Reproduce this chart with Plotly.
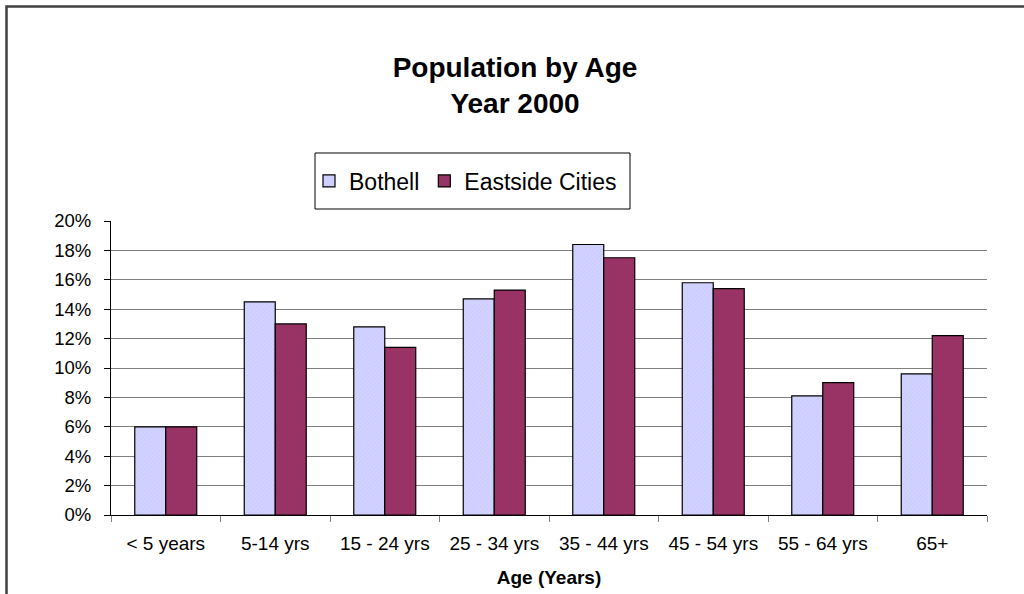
import plotly.graph_objects as go

categories = ["< 5 years", "5-14 yrs", "15 - 24 yrs", "25 - 34 yrs", "35 - 44 yrs",
              "45 - 54 yrs", "55 - 64 yrs", "65+"]
bothell = [6.0, 14.5, 12.8, 14.7, 18.4, 15.8, 8.1, 9.6]
eastside = [6.0, 13.0, 11.4, 15.3, 17.5, 15.4, 9.0, 12.2]
y_ticks = [0, 2, 4, 6, 8, 10, 12, 14, 16, 18, 20]
grid_ticks = y_ticks[1:-1]

W, H = 1024, 594
L, R, T, B = 111, 987, 221, 515

def px_x(p):
    return (p - L) / (R - L)

def px_y(p):
    return (B - p) / (B - T)

FONT = "Liberation Sans, Arial, sans-serif"

fig = go.Figure()
fig.add_trace(go.Bar(
    name="Bothell", x=categories, y=bothell,
    marker=dict(color="#CCCCFF", line=dict(color="#000000", width=1.2),
                pattern=dict(shape="/", bgcolor="#CCCCFF", fgcolor="#DDDDFF",
                             size=3, solidity=0.4)),
))
fig.add_trace(go.Bar(
    name="Eastside Cities", x=categories, y=eastside,
    marker=dict(color="#993366", line=dict(color="#000000", width=1.2)),
))
# invisible trace to host grid-only overlay axis
fig.add_trace(go.Scatter(x=[categories[0]], y=[0], yaxis="y2", mode="markers",
                         marker=dict(opacity=0), showlegend=False, hoverinfo="skip"))

fig.update_layout(
    width=W, height=H,
    margin=dict(l=L, r=W - R, t=T, b=H - B, autoexpand=False),
    paper_bgcolor="white", plot_bgcolor="white",
    font=dict(family=FONT, color="black"),
    barmode="group", bargap=0.434, bargroupgap=0,
    title=dict(text="<b>Population by Age<br>Year 2000</b>",
               font=dict(size=28, family=FONT),
               x=515 / W, xanchor="center", xref="container",
               y=1 - 77 / H, yanchor="top", yref="container"),
    showlegend=True,
    legend=dict(orientation="h", x=px_x(309), xanchor="left",
                y=px_y(181), yanchor="middle",
                font=dict(size=23, family=FONT),
                bgcolor="rgba(0,0,0,0)", borderwidth=0,
                itemwidth=30, traceorder="normal"),
    xaxis=dict(
        automargin=False,
        tickfont=dict(size=19, family=FONT),
        showline=True, linecolor="black", linewidth=1,
        ticks="outside", ticklen=6, tickcolor="#808080",
        tickson="boundaries", showgrid=False,
        ticklabelstandoff=11,
        title=dict(text="<b>Age (Years)</b>", font=dict(size=19, family=FONT), standoff=17),
    ),
    yaxis=dict(
        automargin=False,
        range=[0, 20], tickvals=y_ticks, ticktext=[f"{v}%" for v in y_ticks],
        tickfont=dict(size=18.5, family=FONT),
        showline=True, linecolor="black", linewidth=1,
        ticks="outside", ticklen=6, tickcolor="black",
        showgrid=False, zeroline=False, ticklabelstandoff=9,
    ),
    yaxis2=dict(
        automargin=False,
        overlaying="y", matches="y", range=[0, 20], tickvals=grid_ticks,
        showgrid=True, gridcolor="#808080", gridwidth=1,
        showticklabels=False, ticks="", showline=False, zeroline=False,
    ),
    shapes=[
        dict(type="rect", xref="paper", yref="paper",
             x0=px_x(315), x1=px_x(630), y0=px_y(209), y1=px_y(153),
             line=dict(color="black", width=1), fillcolor="rgba(0,0,0,0)"),
        dict(type="rect", xref="paper", yref="paper",
             x0=px_x(6.5), x1=px_x(1034), y0=px_y(604), y1=px_y(6.5),
             line=dict(color="#404040", width=2.5), fillcolor="rgba(0,0,0,0)"),
    ],
)

fig.write_html("out.html")
